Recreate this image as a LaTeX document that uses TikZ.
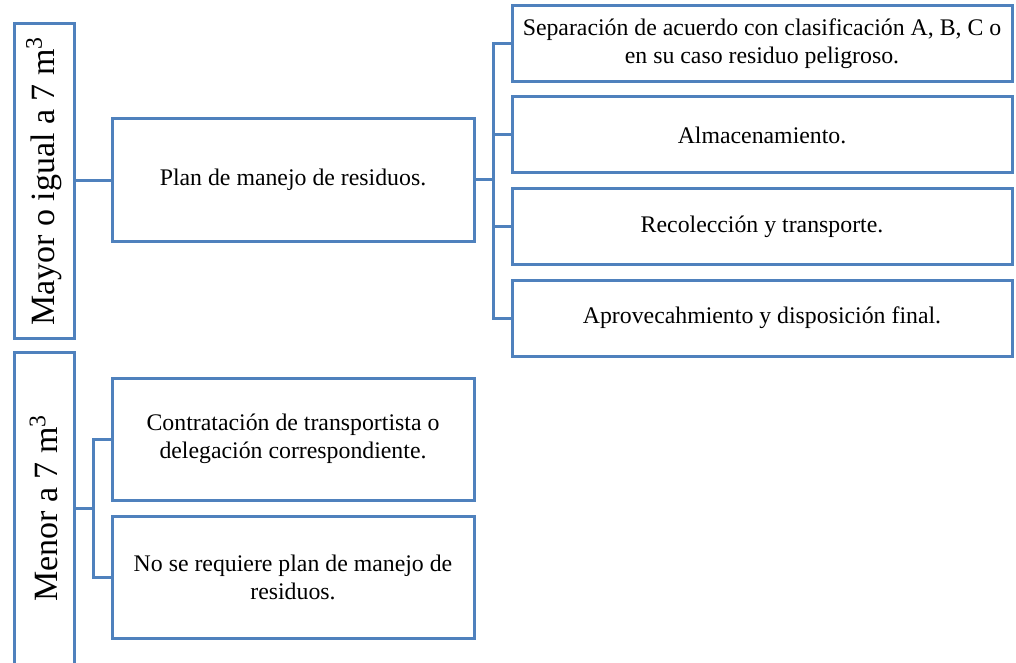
\documentclass[tikz,border=0pt]{standalone}
\usepackage{fontspec}
\setmainfont{Liberation Serif}
\usetikzlibrary{calc}
\definecolor{lb}{RGB}{79,129,189}
\tikzset{
    box/.style =    {rectangle,
                    fill=white,
                    draw=lb,
                    text=black,
                    line width=1.5pt,
                    align=center,
                    inner sep=2pt,
                    font=\fontsize{11.9}{14}\selectfont},
    side/.style =   {rectangle,
                    fill=white,
                    draw=lb,
                    text=black,
                    line width=1.5pt,
                    rotate=90,
                    minimum height=30pt,
                    font=\fontsize{17}{20}\selectfont},
    wide/.style =   {box,
                    minimum width=250pt,
                    minimum height=38pt},
    mid/.style =    {box,
                    minimum width=181pt,
                    minimum height=61pt},
    link/.style =   {draw=lb,
                    line width=1.5pt},
    x=0.5pt,
    y=-0.5pt}

\begin{document}
\begin{tikzpicture}
                \useasboundingbox (0,0) rectangle (1016,663);
                \node[side, minimum width=157pt] (mayor) at (44,181)  {Mayor o igual a 7 m\textsuperscript{3}};
                \node[side, minimum width=156pt] (menor) at (44,508)  {Menor a 7 m\textsuperscript{3}};
                \node[mid]      (plan)  at (293,180)               {Plan de manejo de residuos.};
                \node[wide]     (sep)   at (762,43.5)              {Separación de acuerdo con clasificación A, B, C o\\en su caso residuo peligroso.};
                \node[wide]     (alm)   at (762,135)               {Almacenamiento.};
                \node[wide]     (rec)   at (762,226.5)             {Recolección y transporte.};
                \node[wide]     (apr)   at (762,318)               {Aprovecahmiento y disposición final.};
                \node[mid]      (contr) at (293,439)               {Contratación de transportista o\\delegación correspondiente.};
                \node[mid]      (noreq) at (293,577.5)             {No se requiere plan de manejo de\\residuos.};
                \coordinate (forka) at (493,180);
                \coordinate (forkb) at (93,508);
                % upper branch
                \path [link]    (mayor.south) -- (mayor.south -| plan.west);
                \path [link]    (plan.east) -- (forka);
                \foreach \b in {sep,alm,rec,apr}
                    \path [link] (forka) |- (\b.west);
                % lower branch
                \path [link]    (menor.south) -- (forkb);
                \foreach \b in {contr,noreq}
                    \path [link] (forkb) |- (\b.west);
\end{tikzpicture}
\end{document}
